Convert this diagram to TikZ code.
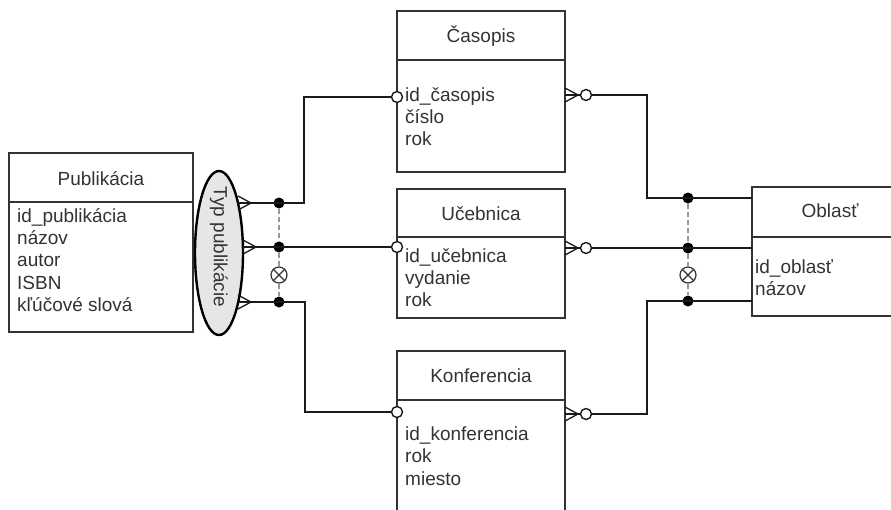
\documentclass[tikz,border=0pt]{standalone}
\usepackage{fontspec}
\setmainfont{Liberation Sans}
\usetikzlibrary{shapes.geometric}
\definecolor{boxc}{HTML}{333333}
\definecolor{txtc}{HTML}{333333}
\definecolor{linec}{HTML}{1A1A1A}
\definecolor{ellgray}{HTML}{E6E6E6}
\definecolor{dashc}{HTML}{999999}
\begin{document}
\begin{tikzpicture}[x=1pt,y=-1pt,
  ent/.style={draw=boxc, line width=1.5pt, inner sep=0pt, outer sep=0pt, anchor=north west},
  divline/.style={draw=boxc, line width=1.5pt},
  ttl/.style={text=txtc, font=\fontsize{19}{22.4}\selectfont, anchor=base, inner sep=0pt},
  attr/.style={text=txtc, font=\fontsize{19}{22.4}\selectfont, anchor=base west, inner sep=0pt},
  conn/.style={draw=linec, line width=1.4pt},
  dot/.style={circle, fill=black, minimum size=11pt, inner sep=0pt},
  opt/.style={circle, draw=linec, line width=1.4pt, fill=white, minimum size=11pt, inner sep=0pt},
  xorc/.style={circle, draw=boxc, line width=1.2pt, fill=white, minimum size=16pt, inner sep=0pt},
  dashln/.style={draw=dashc, line width=2.2pt, dash pattern=on 5pt off 3pt},
  crowfoot/.pic={\draw[linec, line width=1.3pt] (0,-7) -- (13,0) -- (0,7);}
]
\useasboundingbox[fill=white] (0,0) rectangle (891,509);

% ---- entity boxes ----
\node[ent, minimum width=184pt, minimum height=179pt] (pub) at (9,153) {};
\draw[divline] (pub.west |- 0,202) -- (pub.east |- 0,202);
\node[ttl] (pubT) at (101,185) {Publikácia};
\foreach \t [count=\i] in {id\_publikácia, názov, autor, ISBN, kľúčové slová}
  \node[attr] (pubA\i) at (17,{222+22.4*(\i-1)}) {\t};

\node[ent, minimum width=168pt, minimum height=161pt] (cas) at (397,11) {};
\draw[divline] (cas.west |- 0,60) -- (cas.east |- 0,60);
\node[ttl] (casT) at (481,42) {Časopis};
\foreach \t [count=\i] in {id\_časopis, číslo, rok}
  \node[attr] (casA\i) at (405,{101+22.4*(\i-1)}) {\t};

\node[ent, minimum width=168pt, minimum height=129pt] (ucb) at (397,189) {};
\draw[divline] (ucb.west |- 0,237) -- (ucb.east |- 0,237);
\node[ttl] (ucbT) at (481,220) {Učebnica};
\foreach \t [count=\i] in {id\_učebnica, vydanie, rok}
  \node[attr] (ucbA\i) at (405,{262+22.4*(\i-1)}) {\t};

\node[ent, minimum width=168pt, minimum height=200pt] (kon) at (397,351) {};
\draw[divline] (kon.west |- 0,400) -- (kon.east |- 0,400);
\node[ttl] (konT) at (481,382) {Konferencia};
\foreach \t [count=\i] in {id\_konferencia, rok, miesto}
  \node[attr] (konA\i) at (405,{440+22.6*(\i-1)}) {\t};

\node[ent, minimum width=160pt, minimum height=129pt] (obl) at (752,187) {};
\draw[divline] (obl.west |- 0,237) -- (obl.east |- 0,237);
\node[ttl] (oblT) at (830,217) {Oblasť};
\foreach \t [count=\i] in {id\_oblasť, názov}
  \node[attr] (oblA\i) at (755,{273+22.4*(\i-1)}) {\t};

% ---- category ellipse ----
\node[ellipse, draw=black, line width=2.4pt, fill=ellgray, minimum width=48pt,
      minimum height=164pt, inner sep=0pt] (typ) at (219,253) {};
\node[rotate=-90, text=txtc, font=\fontsize{19}{22.4}\selectfont, inner sep=0pt]
      (typT) at (219,247) {Typ publikácie};

% ---- left junction ----
\coordinate (e1) at (238,203);
\coordinate (e2) at (243,247);
\coordinate (e3) at (238,302);
\node[dot] (d1) at (279,203) {};
\node[dot] (d2) at (279,247) {};
\node[dot] (d3) at (279,302) {};
\node[xorc] (x1) at (279,275) {};
\draw[boxc, line width=1.2pt] (x1.45) -- (x1.225) (x1.135) -- (x1.315);
\draw[dashln] (d1) -- (d2);
\draw[dashln] (d2) -- (x1);
\draw[dashln] (x1) -- (d3);

\node[opt] (lc1) at (397,97) {};
\node[opt] (lc2) at (397,247) {};
\node[opt] (lc3) at (397,412) {};

\draw[conn] (e1) -- (d1.center) -- (304,203) |- (lc1);
\draw[conn] (e2) -- (d2.center) -- (lc2);
\draw[conn] (e3) -- (d3.center) -- (305,302) |- (lc3);
\pic at (e1) {crowfoot};
\pic at (e2) {crowfoot};
\pic at (e3) {crowfoot};

% ---- right junction ----
\node[opt] (rc1) at (586,95) {};
\node[opt] (rc2) at (586,248) {};
\node[opt] (rc3) at (586,414) {};
\node[dot] (d4) at (688,198) {};
\node[dot] (d5) at (688,248) {};
\node[dot] (d6) at (688,301) {};
\node[xorc] (x2) at (688,275) {};
\draw[boxc, line width=1.2pt] (x2.45) -- (x2.225) (x2.135) -- (x2.315);
\draw[dashln] (d4) -- (d5);
\draw[dashln] (d5) -- (x2);
\draw[dashln] (x2) -- (d6);

\draw[conn] (cas.east |- rc1) -- (rc1);
\draw[conn] (ucb.east |- rc2) -- (rc2);
\draw[conn] (kon.east |- rc3) -- (rc3);
\pic at (cas.east |- rc1) {crowfoot};
\pic at (ucb.east |- rc2) {crowfoot};
\pic at (kon.east |- rc3) {crowfoot};

\draw[conn] (rc1) -- (647,95) |- (d4.center) -- (d4.center -| obl.west);
\draw[conn] (rc2) -- (d5.center) -- (d5.center -| obl.west);
\draw[conn] (rc3) -- (647,414) |- (d6.center) -- (d6.center -| obl.west);
\end{tikzpicture}
\end{document}
